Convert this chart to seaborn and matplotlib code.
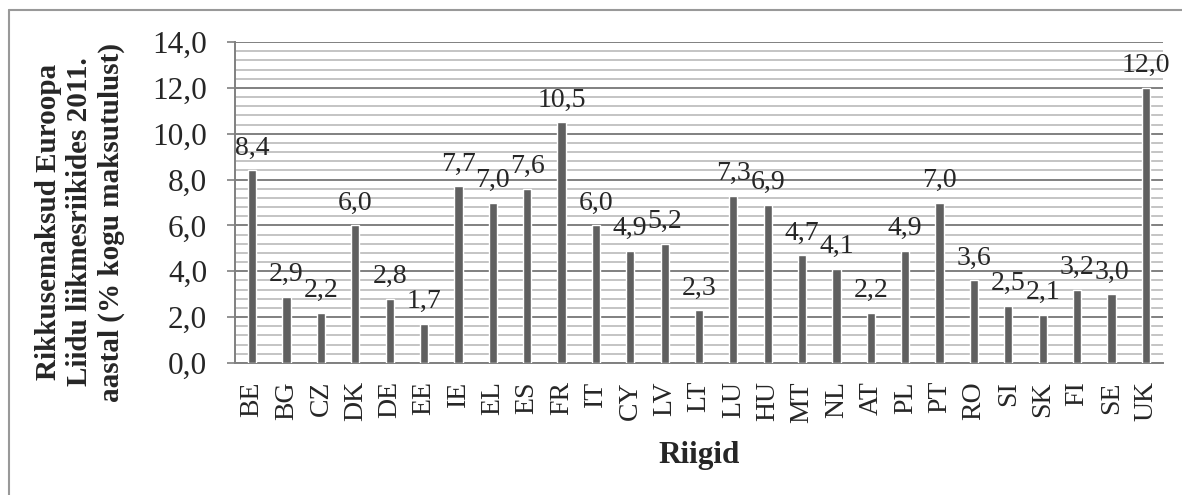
import matplotlib
matplotlib.use("Agg")
import matplotlib.pyplot as plt
from matplotlib.ticker import MultipleLocator, FuncFormatter
from matplotlib.lines import Line2D
import seaborn as sns
import pandas as pd

countries = ["BE", "BG", "CZ", "DK", "DE", "EE", "IE", "EL", "ES", "FR", "IT", "CY", "LV", "LT",
             "LU", "HU", "MT", "NL", "AT", "PL", "PT", "RO", "SI", "SK", "FI", "SE", "UK"]
values = [8.4, 2.9, 2.2, 6.0, 2.8, 1.7, 7.7, 7.0, 7.6, 10.5, 6.0, 4.9, 5.2, 2.3,
          7.3, 6.9, 4.7, 4.1, 2.2, 4.9, 7.0, 3.6, 2.5, 2.1, 3.2, 3.0, 12.0]
ylabel_text = "Rikkusemaksud Euroopa\nLiidu liikmesriikides 2011.\naastal (% kogu maksutulust)"
xlabel_text = "Riigid"

df = pd.DataFrame({"Riik": countries, "Vaartus": values})

sns.set_style("white")
plt.rcParams["font.family"] = ["Liberation Serif", "DejaVu Serif"]

W, H = 1182, 495
fig = plt.figure(figsize=(W / 100, H / 100), dpi=100)
ax = fig.add_axes([235 / W, 1 - 363 / H, (1163 - 235) / W, (363 - 42) / H])

sns.barplot(data=df, x="Riik", y="Vaartus", color="#606060", width=0.24,
            saturation=1, ax=ax, zorder=3, order=countries)

ax.set_ylim(0, 14)
ax.set_xlim(-0.5, len(countries) - 0.5)
ax.yaxis.set_major_locator(MultipleLocator(2))
ax.yaxis.set_minor_locator(MultipleLocator(0.4))
ax.yaxis.set_major_formatter(FuncFormatter(lambda v, p: f"{v:.1f}".replace(".", ",")))
ax.grid(which="major", axis="y", color="#808080", linewidth=1.4, zorder=1)
ax.grid(which="minor", axis="y", color="#c4c4c4", linewidth=1.4, zorder=0)
ax.set_axisbelow(True)

for s in ["top", "right"]:
    ax.spines[s].set_visible(False)
for s in ["left", "bottom"]:
    ax.spines[s].set_color("#808080")
    ax.spines[s].set_linewidth(1.4)

ax.tick_params(axis="y", which="major", length=6, width=1.2, color="#808080",
               labelsize=22.5, pad=14, left=True)
ax.tick_params(axis="y", which="minor", length=0)
ax.tick_params(axis="x", length=0, labelsize=20, pad=13, labelrotation=90)
ax.set_xlabel("")
ax.set_ylabel("")

labels = [f"{v:.1f}".replace(".", ",") for v in values]
ax.bar_label(ax.containers[0], labels=labels, padding=7, fontsize=20)

fig.text(80 / W, 1 - 222 / H, ylabel_text, rotation=90, ha="center", va="center",
         multialignment="center", fontsize=21, fontweight="bold", linespacing=1.2)
fig.text(699 / W, 1 - 455 / H, xlabel_text, ha="center", va="center",
         fontsize=22.5, fontweight="bold")

# outer frame (top and left edges visible)
fig.add_artist(Line2D([9 / W, 1], [1 - 10 / H, 1 - 10 / H], transform=fig.transFigure,
                      color="#999999", linewidth=1.5))
fig.add_artist(Line2D([9 / W, 9 / W], [0, 1 - 10 / H], transform=fig.transFigure,
                      color="#999999", linewidth=1.5))

fig.savefig("out.png", dpi=100)
